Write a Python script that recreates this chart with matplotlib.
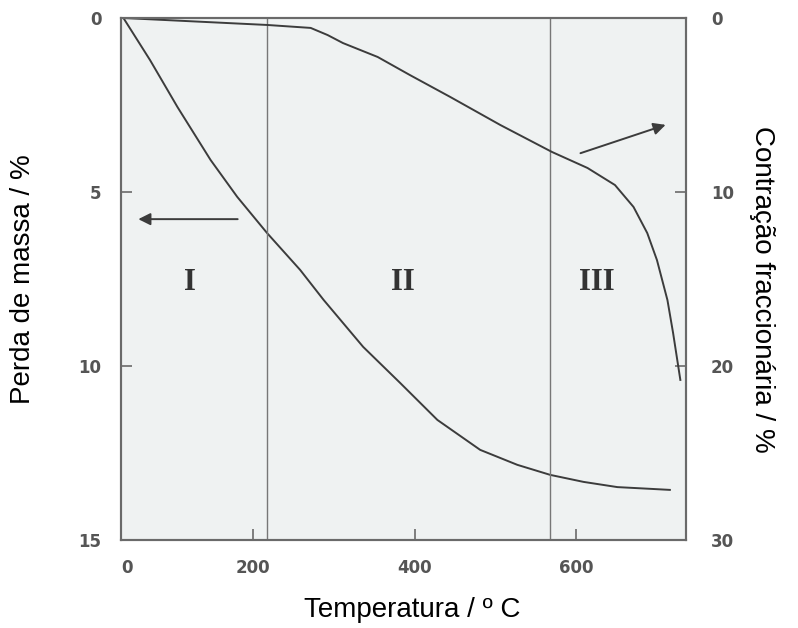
import matplotlib.pyplot as plt

# Perda de massa (eixo esquerdo)
temp_massa = [39, 72, 106, 147, 180, 217, 258, 287, 336, 382, 428, 481, 527, 568, 609, 651, 692, 716]
perda_massa = [0, 1.21, 2.56, 4.08, 5.14, 6.18, 7.24, 8.10, 9.45, 10.49, 11.55, 12.41, 12.84,
               13.13, 13.33, 13.48, 13.53, 13.56]

# Contracção fraccionária (eixo direito)
temp_contr = [39, 217, 271, 292, 311, 354, 394, 444, 506, 570, 614, 648, 671, 688, 700, 713, 720, 729]
contracao = [0, 0.40, 0.57, 0.98, 1.44, 2.24, 3.28, 4.54, 6.15, 7.70, 8.62, 9.60, 10.86, 12.36,
             13.91, 16.21, 18.10, 20.80]

# Limites entre as etapas I, II e III
limites = [217, 568]
etapas = ['I', 'II', 'III']
pos_etapas = [122, 385, 626]

x_ticks = [44, 200, 400, 600]
x_labels = ['0', '200', '400', '600']

cor_linha = '#3c3c3c'
cor_eixo = '#6a6a6a'
cor_num = '#555555'

fig = plt.figure(figsize=(7.98, 6.28), dpi=100)
ax = fig.add_axes([121 / 798, 1 - 540 / 628, 565 / 798, 522 / 628])
ax.set_facecolor('#eff2f2')
ax2 = ax.twinx()

ax.plot(temp_massa, perda_massa, color=cor_linha, lw=1.4)
ax2.plot(temp_contr, contracao, color=cor_linha, lw=1.4)
for t in limites:
    ax.axvline(t, color='#777777', lw=1.0)

ax.set_xlim(36, 736)
ax.set_ylim(15, 0)
ax2.set_ylim(30, 0)

ax.set_xticks(x_ticks, x_labels)
ax.set_yticks([0, 5, 10, 15])
ax2.set_yticks([0, 10, 20, 30])
# o traço do "0" fica escondido no canto, como no original
ax.xaxis.get_major_ticks()[0].tick1line.set_visible(False)

for a in (ax, ax2):
    for s in a.spines.values():
        s.set_color(cor_eixo)
        s.set_linewidth(1.5)
ax.tick_params(axis='x', direction='in', length=8, width=1.2, color=cor_eixo, pad=14,
               labelsize=12, labelcolor=cor_num)
ax.tick_params(axis='y', direction='in', length=8, width=1.2, color=cor_eixo, pad=14,
               labelsize=12, labelcolor=cor_num)
ax2.tick_params(axis='y', direction='in', length=8, width=1.2, color=cor_eixo, pad=18,
                labelsize=12, labelcolor=cor_num)
for lab in ax.get_xticklabels() + ax.get_yticklabels() + ax2.get_yticklabels():
    lab.set_fontweight('bold')

# Setas a indicar o eixo de cada curva
ax.annotate('', xy=(54, 5.78), xytext=(184, 5.78),
            arrowprops=dict(arrowstyle='-|>', color=cor_linha, lw=1.4, mutation_scale=18))
ax2.annotate('', xy=(714, 6.09), xytext=(602, 7.82),
             arrowprops=dict(arrowstyle='-|>', color=cor_linha, lw=1.4, mutation_scale=18))

for nome, xp in zip(etapas, pos_etapas):
    ax.text(xp, 7.6, nome, ha='center', va='center', fontsize=22, fontweight='bold',
            family='Liberation Serif', color='#333333')

ax.set_xlabel('Temperatura / º C', fontsize=20, family='Liberation Sans')
ax.set_ylabel('Perda de massa / %', fontsize=20, family='Liberation Sans')
ax2.set_ylabel('Contração fraccionária / %', fontsize=20, family='Liberation Sans',
               rotation=270)
ax.xaxis.set_label_coords(0.515, -0.109)
ax.yaxis.set_label_coords(-0.15, 0.50)
ax2.yaxis.set_label_coords(1.1575, 0.48)

plt.savefig('out.png', dpi=100)
